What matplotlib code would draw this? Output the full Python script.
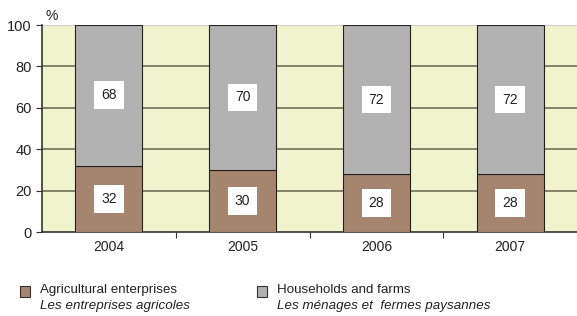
import matplotlib.pyplot as plt
from matplotlib.patches import Rectangle

years = ["2004", "2005", "2006", "2007"]
enterprises = [32, 30, 28, 28]
households = [68, 70, 72, 72]

BROWN = "#a6856e"
GREY = "#b3b2b3"
BG = "#eff4cc"
GRID = "#707058"

fig = plt.figure(figsize=(5.77, 3.16), dpi=100)
ax = fig.add_axes([42 / 577, 1 - 232 / 316, 535 / 577, 207 / 316])
ax.set_facecolor(BG)

x = range(len(years))
ax.bar(x, enterprises, width=0.5, color=BROWN, edgecolor="#222222", linewidth=0.8, zorder=3)
ax.bar(x, households, width=0.5, bottom=enterprises, color=GREY, edgecolor="#222222",
       linewidth=0.8, zorder=3)

for i in x:
    for val, mid in ((enterprises[i], enterprises[i] / 2),
                     (households[i], enterprises[i] + households[i] / 2)):
        ax.text(i, mid, str(val), ha="center", va="center", fontsize=10, color="#222222",
                family="Liberation Sans", zorder=5,
                bbox=dict(boxstyle="square,pad=0.5", facecolor="white", edgecolor="none"))

ax.set_xlim(-0.5, 3.5)
ax.set_ylim(0, 100)
ax.set_yticks([0, 20, 40, 60, 80, 100])
for y in (20, 40, 60, 80):
    ax.axhline(y, color=GRID, linewidth=1.2, zorder=1)
ax.axhline(100, color="#c8c8c8", linewidth=1.2, zorder=1)

ax.set_xticks([0.5, 1.5, 2.5], minor=False)
ax.set_xticklabels([])
ax.set_xticks(list(x), minor=True)
ax.set_xticklabels(years, minor=True)
ax.tick_params(axis="x", which="minor", length=0, pad=6, labelsize=10, labelcolor="#222222")
ax.tick_params(axis="x", which="major", length=4, direction="out", color="#333333")
ax.tick_params(axis="y", length=4, direction="out", color="#333333", labelsize=10.5,
               labelcolor="#222222")
for lbl in ax.get_xticklabels(minor=True) + ax.get_yticklabels():
    lbl.set_family("Liberation Sans")

for side in ("top", "right"):
    ax.spines[side].set_visible(False)
ax.spines["left"].set_color("#333333")
ax.spines["bottom"].set_color("#333333")
ax.spines["left"].set_linewidth(1.2)
ax.spines["bottom"].set_linewidth(1.2)

fig.text(45 / 577, 1 - 16 / 316, "%", fontsize=10, color="#222222",
         family="Liberation Sans", ha="left", va="center")

# legend
legend_items = [
    (20, BROWN, "Agricultural enterprises", "Les entreprises agricoles"),
    (257, GREY, "Households and farms", "Les ménages et  fermes paysannes"),
]
for lx, col, en, fr in legend_items:
    fig.patches.append(Rectangle((lx / 577, 1 - 297 / 316), 10 / 577, 11 / 316,
                                 transform=fig.transFigure, facecolor=col,
                                 edgecolor="#333333", linewidth=0.8))
    fig.text((lx + 20) / 577, 1 - 290 / 316, en, fontsize=9.6, color="#222222",
             family="Liberation Sans", ha="left", va="center")
    fig.text((lx + 20) / 577, 1 - 306 / 316, fr, fontsize=9.6, color="#222222",
             family="Liberation Sans", style="italic", ha="left", va="center")

fig.savefig("out.png", dpi=100, facecolor="white")
